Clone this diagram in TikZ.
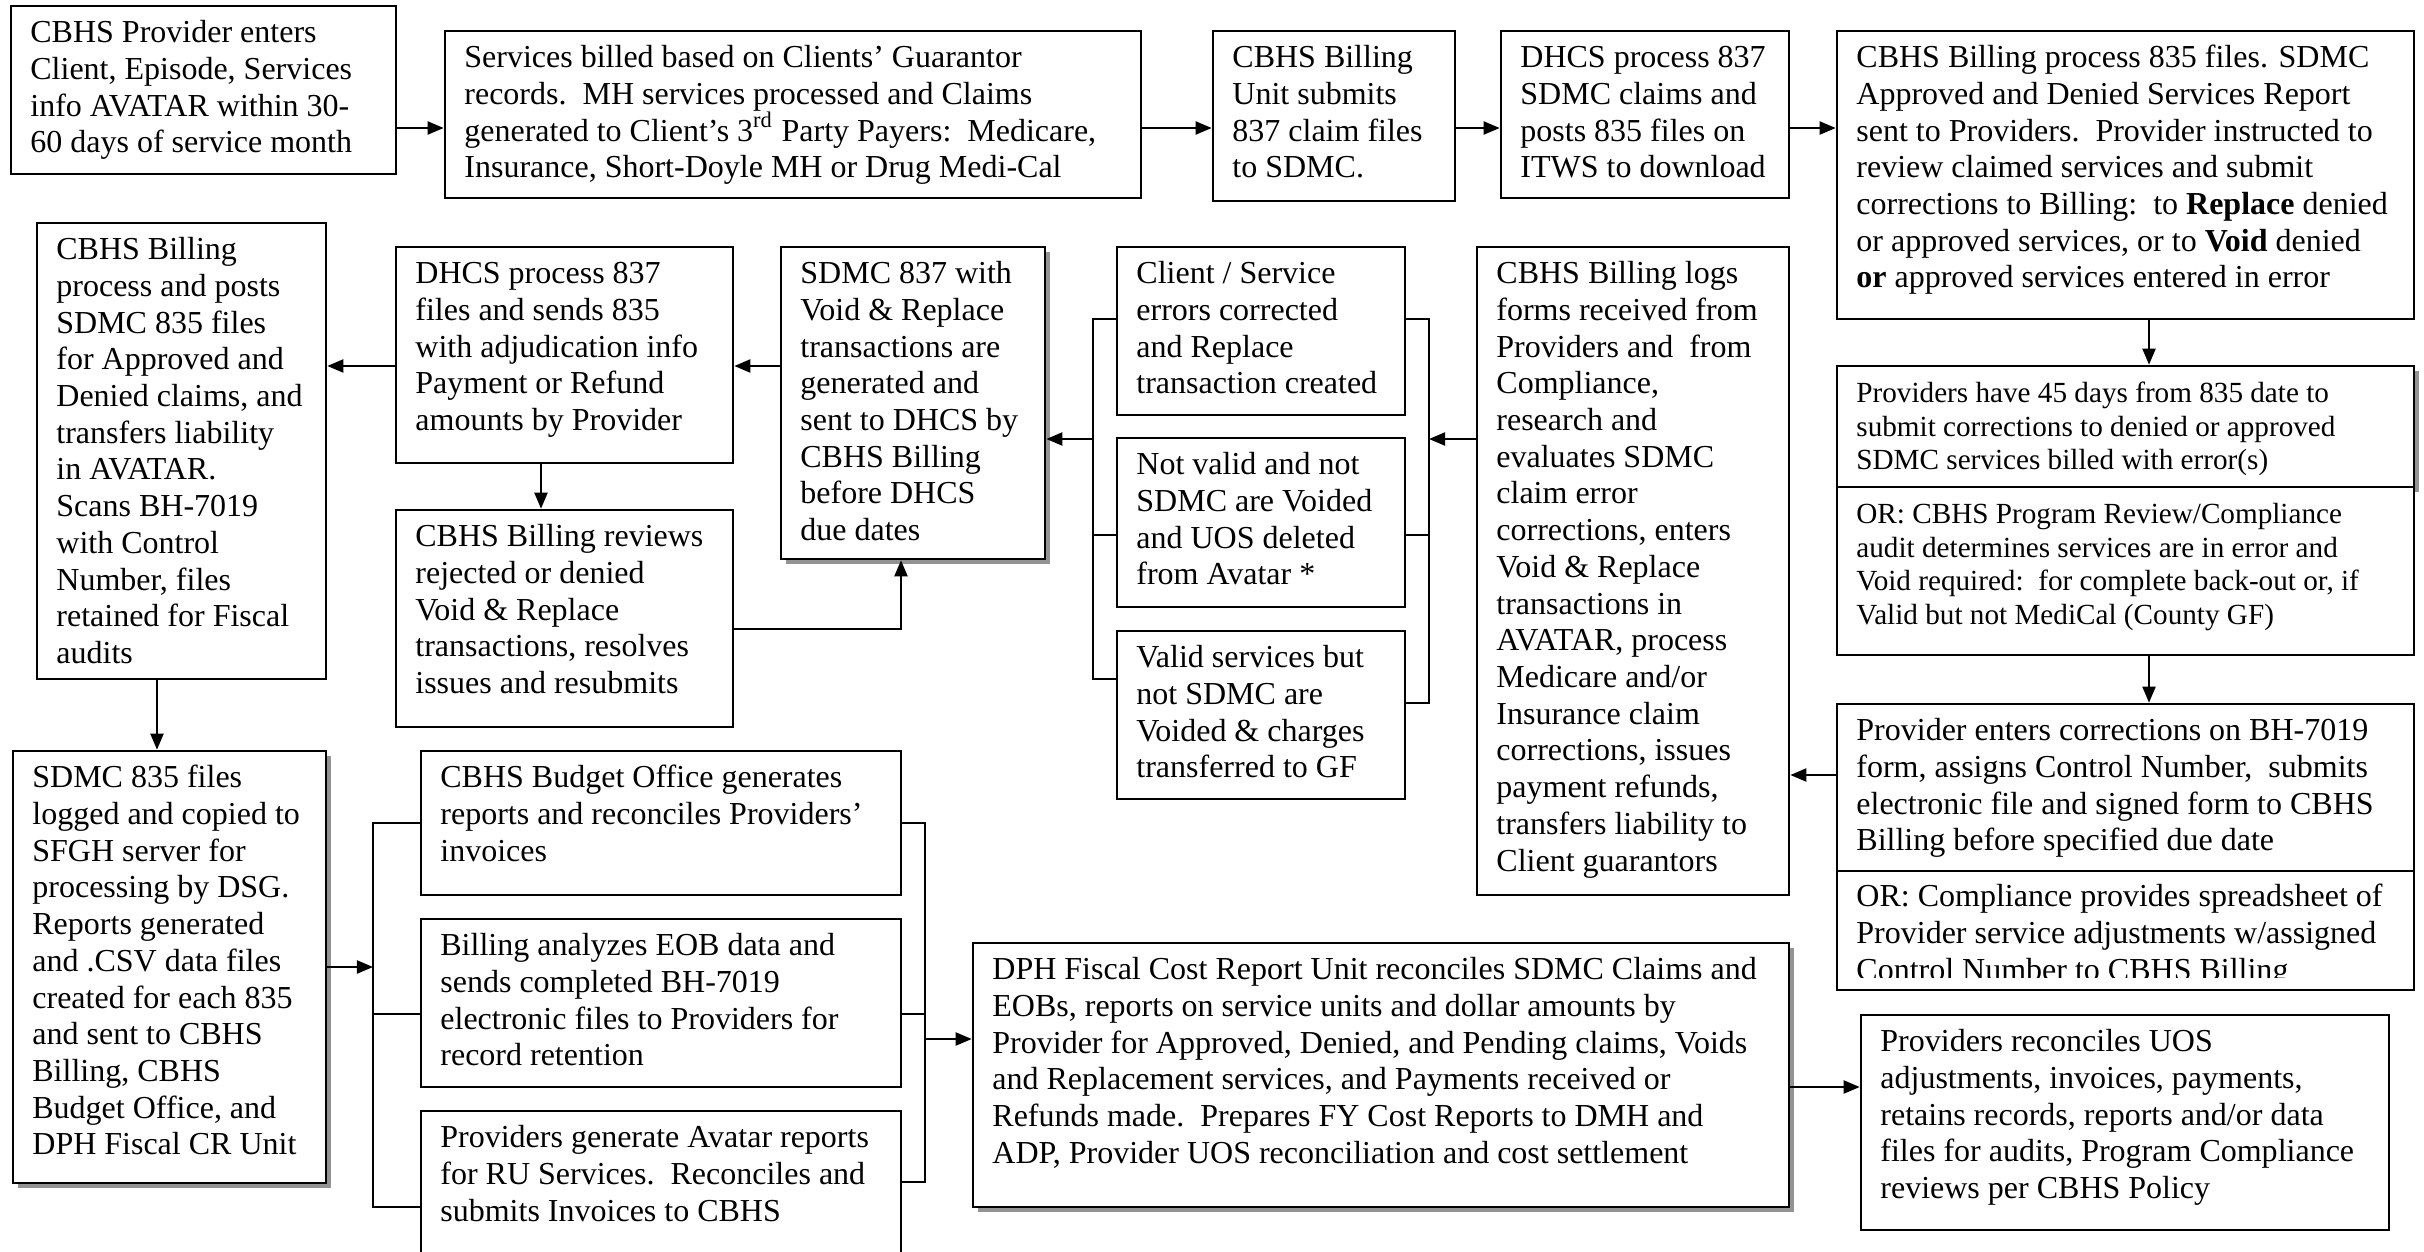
\documentclass[tikz,border=0pt]{standalone}
\usepackage{fontspec}
\setmainfont{Liberation Serif}
\usetikzlibrary{arrows.meta,fit,shadows}
\newcommand{\mainsz}{\fontsize{9.1pt}{10.44pt}\selectfont}
\newcommand{\smallsz}{\fontsize{8.3pt}{9.53pt}\selectfont}
\tikzset{
  bx/.style={draw, line width=0.75pt, fill=white, inner sep=0pt},
  shd/.style={drop shadow={shadow xshift=0.05cm, shadow yshift=-0.05cm, fill=gray!85, opacity=1}},
  txt/.style={inner sep=0pt, anchor=base west},
  arr/.style={line width=0.6pt, -{Triangle[length=0.16cm,width=0.13cm]}},
  ln/.style={line width=0.6pt},
}
% #1 extra style, #2 name, #3-#6 corners (px), #7 size cmd, #8 text
\newcommand{\mybox}[8][]{%
  \node[bx,#1,fit={(#3,#4) (#5,#6)}] (#2) {};
  \node[txt] (#2t) at ([xshift=0.2cm,yshift=-0.38cm]#2.north west) {\parbox[t]{12cm}{#7#8}};
}
\begin{document}
\begin{tikzpicture}[x=0.01cm,y=-0.01cm]
\useasboundingbox (0,0) rectangle (2424,1251);
\fill[white] (0,0) rectangle (2424,1251);
\clip (0,0) rectangle (2424,1251);

\mybox{nA}{11}{6}{396}{174}{\mainsz}{CBHS Provider enters\\Client, Episode, Services\\info AVATAR within 30-\\60 days of service month}
\mybox{nB}{445}{31}{1141}{198}{\mainsz}{Services billed based on Clients’ Guarantor\\records.\ \ MH services processed and Claims\\generated to Client’s 3\textsuperscript{rd} Party Payers:\ \ Medicare,\\Insurance, Short-Doyle MH or Drug Medi-Cal}
\mybox{nC}{1213}{31}{1455}{201}{\mainsz}{CBHS Billing\\Unit submits\\837 claim files\\to SDMC.}
\mybox{nD}{1501}{31}{1789}{198}{\mainsz}{DHCS process 837\\SDMC claims and\\posts 835 files on\\ITWS to download}
\mybox{nE}{1837}{31}{2414}{319}{\mainsz}{CBHS Billing process 835 files. SDMC\\Approved and Denied Services Report\\sent to Providers.\ \ Provider instructed to\\review claimed services and submit\\corrections to Billing:\ \ to \textbf{Replace} denied\\or approved services, or to \textbf{Void} denied\\\textbf{or} approved services entered in error}

\mybox{nF}{37}{223}{326}{679}{\mainsz}{CBHS Billing\\process and posts\\SDMC 835 files\\for Approved and\\Denied claims, and\\transfers liability\\in AVATAR.\\Scans BH-7019\\with Control\\Number, files\\retained for Fiscal\\audits}
\mybox{nG}{396}{247}{733}{463}{\mainsz}{DHCS process 837\\files and sends 835\\with adjudication info\\Payment or Refund\\amounts by Provider}
\mybox{nGb}{396}{510}{733}{727}{\mainsz}{CBHS Billing reviews\\rejected or denied\\Void \& Replace\\transactions, resolves\\issues and resubmits}
\mybox[shd]{nH}{781}{247}{1045}{559}{\mainsz}{SDMC 837 with\\Void \& Replace\\transactions are\\generated and\\sent to DHCS by\\CBHS Billing\\before DHCS\\due dates}
\mybox{nI}{1117}{247}{1405}{415}{\mainsz}{Client / Service\\errors corrected\\and Replace\\transaction created}
\mybox{nJ}{1117}{438}{1405}{607}{\mainsz}{Not valid and not\\SDMC are Voided\\and UOS deleted\\from Avatar *}
\mybox{nK}{1117}{631}{1405}{799}{\mainsz}{Valid services but\\not SDMC are\\Voided \& charges\\transferred to GF}
\mybox{nL}{1477}{247}{1789}{895}{\mainsz}{CBHS Billing logs\\forms received from\\Providers and\ \ from\\Compliance,\\research and\\evaluates SDMC\\claim error\\corrections, enters\\Void \& Replace\\transactions in\\AVATAR, process\\Medicare and/or\\Insurance claim\\corrections, issues\\payment refunds,\\transfers liability to\\Client guarantors}
\mybox[shd]{nM}{1837}{366}{2414}{487}{\smallsz}{Providers have 45 days from 835 date to\\submit corrections to denied or approved\\SDMC services billed with error(s)}
\mybox{nN}{1837}{487}{2414}{655}{\smallsz}{OR: CBHS Program Review/Compliance\\audit determines services are in error and\\Void required:\ \ for complete back-out or, if\\Valid but not MediCal (County GF)}
\mybox{nO}{1837}{704}{2414}{871}{\mainsz}{Provider enters corrections on BH-7019\\form, assigns Control Number,\ \ submits\\electronic file and signed form to CBHS\\Billing before specified due date}
\node[bx,fit={(1837,871) (2414,990)}] (nP) {};
\begin{scope}
\clip (1840,874) rectangle (2411,977);
\node[txt] (nPt) at ([xshift=0.2cm,yshift=-0.37cm]nP.north west) {\parbox[t]{12cm}{\mainsz OR: Compliance provides spreadsheet of\\Provider service adjustments w/assigned\\Control Number to CBHS Billing}};
\end{scope}

\mybox[shd]{nQ}{13}{751}{326}{1183}{\mainsz}{SDMC 835 files\\logged and copied to\\SFGH server for\\processing by DSG.\\Reports generated\\and .CSV data files\\created for each 835\\and sent to CBHS\\Billing, CBHS\\Budget Office, and\\DPH Fiscal CR Unit}
\mybox{nR}{421}{751}{901}{895}{\mainsz}{CBHS Budget Office generates\\reports and reconciles Providers’\\invoices}
\mybox{nS}{421}{919}{901}{1087}{\mainsz}{Billing analyzes EOB data and\\sends completed BH-7019\\electronic files to Providers for\\record retention}
\mybox{nT}{421}{1111}{901}{1300}{\mainsz}{Providers generate Avatar reports\\for RU Services.\ \ Reconciles and\\submits Invoices to CBHS}
\mybox[shd]{nU}{973}{943}{1789}{1207}{\mainsz}{DPH Fiscal Cost Report Unit reconciles SDMC Claims and\\EOBs, reports on service units and dollar amounts by\\Provider for Approved, Denied, and Pending claims, Voids\\and Replacement services, and Payments received or\\Refunds made.\ \ Prepares FY Cost Reports to DMH and\\ADP, Provider UOS reconciliation and cost settlement}
\mybox{nV}{1861}{1015}{2389}{1230}{\mainsz}{Providers reconciles UOS\\adjustments, invoices, payments,\\retains records, reports and/or data\\files for audits, Program Compliance\\reviews per CBHS Policy}

% helper coordinates
\coordinate (yTop) at (0,128);
\coordinate (yHG) at (0,366);
\coordinate (xGG) at (541,0);
\coordinate (cGH) at (901,629);
\coordinate (xFQ) at (157,0);
\coordinate (xEM) at (2149,0);
\coordinate (yOL) at (0,775);
\coordinate (yUV) at (0,1087);
\coordinate (rb1) at (1429,319);
\coordinate (rb2) at (1429,535);
\coordinate (rb3) at (1429,703);
\coordinate (rbm) at (1429,439);
\coordinate (lb1) at (1093,319);
\coordinate (lb2) at (1093,535);
\coordinate (lb3) at (1093,679);
\coordinate (lbm) at (1093,439);
\coordinate (qb) at (373,967);
\coordinate (sl1) at (373,823);
\coordinate (sl2) at (373,1014);
\coordinate (sl3) at (373,1207);
\coordinate (sr1) at (925,823);
\coordinate (sr2) at (925,1014);
\coordinate (sr3) at (925,1182);
\coordinate (srm) at (925,1039);

% top row
\draw[arr] (nA.east |- yTop) -- (nB.west |- yTop);
\draw[arr] (nB.east |- yTop) -- (nC.west |- yTop);
\draw[arr] (nC.east |- yTop) -- (nD.west |- yTop);
\draw[arr] (nD.east |- yTop) -- (nE.west |- yTop);
% right column
\draw[arr] (nE.south -| xEM) -- (nM.north -| xEM);
\draw[arr] (nN.south -| xEM) -- (nO.north -| xEM);
\draw[arr] (nO.west |- yOL) -- (nL.east |- yOL);
% brackets around I J K
\draw[ln] (nI.east |- rb1) -- (rb1) -- (rb3) -- (nK.east |- rb3);
\draw[ln] (nJ.east |- rb2) -- (rb2);
\draw[arr] (nL.west |- rbm) -- (rbm);
\draw[ln] (nI.west |- lb1) -- (lb1) -- (lb3) -- (nK.west |- lb3);
\draw[ln] (nJ.west |- lb2) -- (lb2);
\draw[arr] (lbm) -- (nH.east |- lbm);
% middle row
\draw[arr] (nH.west |- yHG) -- (nG.east |- yHG);
\draw[arr] (nG.west |- yHG) -- (nF.east |- yHG);
\draw[arr] (nG.south -| xGG) -- (nGb.north -| xGG);
\draw[arr] (nGb.east |- cGH) -- (cGH) -- (nH.south -| cGH);
\draw[arr] (nF.south -| xFQ) -- (nQ.north -| xFQ);
% bottom
\draw[arr] (nQ.east |- qb) -- (qb);
\draw[ln] (nR.west |- sl1) -- (sl1) -- (sl3) -- (nT.west |- sl3);
\draw[ln] (nS.west |- sl2) -- (sl2);
\draw[ln] (nR.east |- sr1) -- (sr1) -- (sr3) -- (nT.east |- sr3);
\draw[ln] (nS.east |- sr2) -- (sr2);
\draw[arr] (srm) -- (nU.west |- srm);
\draw[arr] (nU.east |- yUV) -- (nV.west |- yUV);
\end{tikzpicture}
\end{document}
